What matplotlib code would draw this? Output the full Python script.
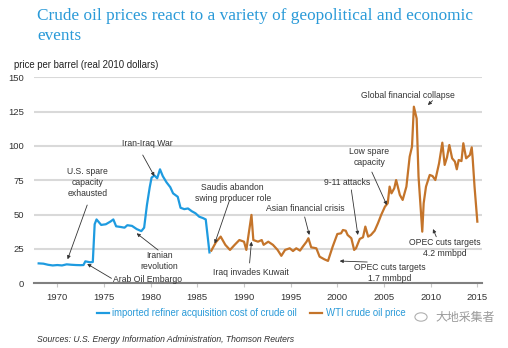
import matplotlib.pyplot as plt
from matplotlib.patches import Circle

# imported refiner acquisition cost of crude oil (real 2010 $/bbl)
rac_years = [1968.0, 1968.5, 1969.0, 1969.5, 1970.0, 1970.5, 1971.0, 1971.5, 1972.0,
             1972.5, 1972.8, 1973.0, 1973.5, 1973.8, 1974.0, 1974.2, 1974.7, 1975.2,
             1975.7, 1976.0, 1976.3, 1976.8, 1977.2, 1977.5, 1978.0, 1978.5, 1979.0,
             1979.3, 1979.6, 1979.9, 1980.1, 1980.4, 1980.7, 1981.0, 1981.3, 1981.7,
             1982.1, 1982.4, 1982.9, 1983.2, 1983.6, 1984.0, 1984.4, 1984.8, 1985.2,
             1985.6, 1985.9, 1986.3]
rac_price = [14.5, 14.3, 13.5, 13.0, 13.3, 13.0, 13.8, 13.5, 13.3,
             13.2, 13.3, 16.0, 15.3, 15.5, 43.0, 46.5, 42.5, 43.0,
             45.0, 46.5, 41.5, 41.0, 40.5, 42.3, 41.8, 39.5, 38.0,
             40.5, 57.0, 70.0, 77.0, 78.5, 76.5, 83.0, 78.0, 73.5,
             70.0, 65.5, 63.0, 55.0, 54.0, 54.5, 52.5, 51.0, 48.5,
             47.5, 46.5, 22.5]

# WTI crude oil price (real 2010 $/bbl)
wti_years = [1986.5, 1987.0, 1987.5, 1988.0, 1988.5, 1989.0, 1989.5, 1990.0, 1990.25,
             1990.8, 1991.0, 1991.5, 1991.9, 1992.1, 1992.6, 1993.1, 1993.6, 1994.0,
             1994.4, 1994.9, 1995.25, 1995.6, 1996.0, 1996.3, 1996.7, 1996.9, 1997.2,
             1997.75, 1998.1, 1998.6, 1999.0, 1999.5, 2000.0, 2000.4, 2000.6, 2000.9,
             2001.1, 2001.5, 2001.8, 2002.0, 2002.4, 2002.75, 2003.0, 2003.3, 2003.6,
             2004.0, 2004.35, 2004.7, 2005.1, 2005.4, 2005.6, 2005.8, 2006.1, 2006.3,
             2006.7, 2007.0, 2007.4, 2007.75, 2008.0, 2008.2, 2008.5, 2008.7, 2009.1,
             2009.25, 2009.5, 2009.9, 2010.2, 2010.5, 2010.9, 2011.25, 2011.5, 2011.75,
             2012.0, 2012.3, 2012.6, 2012.8, 2013.0, 2013.3, 2013.5, 2013.8, 2014.2,
             2014.4, 2014.5, 2014.7, 2015.0]
wti_price = [23.8, 30.0, 34.0, 28.0, 24.3, 28.0, 31.5, 30.3, 24.3,
             49.8, 31.5, 30.3, 31.5, 28.0, 30.3, 28.0, 24.3, 20.0,
             24.3, 25.5, 23.5, 25.5, 23.8, 26.7, 30.3, 32.8, 26.2,
             25.5, 19.4, 17.5, 16.3, 26.7, 35.9, 36.4, 38.8, 38.3,
             35.2, 32.8, 24.3, 25.5, 32.3, 33.5, 41.3, 34.0, 35.2,
             38.3, 43.7, 49.8, 55.8, 58.3, 70.4, 65.5, 69.2, 75.2,
             64.3, 60.7, 70.4, 92.2, 99.5, 128.6, 120.0, 77.7, 37.6,
             58.3, 70.4, 78.9, 78.1, 75.2, 87.4, 102.4, 86.2, 91.7,
             100.7, 91.0, 88.6, 83.0, 89.8, 89.0, 102.0, 91.0, 93.4,
             99.0, 91.0, 70.4, 44.9]

year_ticks = [1970, 1975, 1980, 1985, 1990, 1995, 2000, 2005, 2010, 2015]
price_ticks = [0, 25, 50, 75, 100, 125, 150]

# (label, text centre, arrow tail, arrow head)
events = [
    ("U.S. spare\ncapacity\nexhausted", (1973.25, 73.3), (1973.2, 57.0), (1971.1, 17.5)),
    ("Iran-Iraq War", (1979.7, 102.0), (1979.15, 93.4), (1980.4, 78.0)),
    ("Iranian\nrevolution", (1980.9, 16.0), (1980.8, 24.2), (1978.5, 36.4)),
    ("Arab Oil Embargo", (1979.7, 3.1), (1975.8, 3.6), (1973.2, 14.1)),
    ("Saudis abandon\nswing producer role", (1988.8, 65.8), (1988.46, 60.7), (1986.86, 29.0)),
    ("Iraq invades Kuwait", (1990.7, 8.2), (1990.6, 14.8), (1990.8, 30.3)),
    ("Asian financial crisis", (1996.6, 54.8), (1996.5, 48.3), (1997.0, 35.2)),
    ("9-11 attacks", (2001.0, 73.7), (2001.5, 68.0), (2002.2, 35.2)),
    ("Low spare\ncapacity", (2003.4, 92.0), (2003.7, 81.0), (2005.3, 57.0)),
    ("Global financial collapse", (2007.6, 137.0), (2010.2, 133.0), (2009.7, 129.8)),
    ("OPEC cuts targets\n1.7 mmbpd", (2005.6, 7.5), (2003.2, 15.5), (2000.25, 16.2)),
    ("OPEC cuts targets\n4.2 mmbpd", (2011.5, 25.7), (2010.6, 33.9), (2010.25, 39.5)),
]

blue = '#1e9be0'
orange = '#c4742a'
title_blue = '#2a9ad8'
txt = '#333333'

plt.rcParams['font.family'] = ['Liberation Sans', 'DejaVu Sans']

fig = plt.figure(figsize=(5.08, 3.48), dpi=100)
ax = fig.add_axes([34 / 508, 1 - 283.3 / 348, 448 / 508, 206 / 348])

ax.plot(rac_years, rac_price, color=blue, lw=1.6, label='imported refiner acquisition cost of crude oil')
ax.plot(wti_years, wti_price, color=orange, lw=1.6, label='WTI crude oil price')

ax.set_xlim(1967.5, 2015.5)
ax.set_ylim(0, 150)
ax.set_xticks(year_ticks)
ax.set_yticks(price_ticks)
ax.tick_params(axis='x', length=3, color='#c8c8c8', labelsize=6.8, labelcolor=txt, pad=4)
ax.tick_params(axis='y', length=0, labelsize=6.8, labelcolor=txt, pad=7)
ax.grid(axis='y', color='#d9d9d9', lw=1.5)
ax.set_axisbelow(True)
for side in ['top', 'right', 'left']:
    ax.spines[side].set_visible(False)
ax.spines['bottom'].set_color('#808080')
ax.spines['bottom'].set_linewidth(1.5)

for label, pos, tail, head in events:
    ax.text(pos[0], pos[1], label, ha='center', va='center', fontsize=6.2,
            color=txt, linespacing=1.3)
    ax.annotate('', xy=head, xytext=tail,
                arrowprops=dict(arrowstyle='-|>', color='#333333', lw=0.6,
                                mutation_scale=5, shrinkA=0, shrinkB=0))

fig.text(37 / 508, 1 - 26 / 348,
         'Crude oil prices react to a variety of geopolitical and economic\nevents',
         family='Liberation Serif', fontsize=12.4, color=title_blue, va='center',
         linespacing=1.4)
fig.text(14 / 508, 1 - 65 / 348, 'price per barrel (real 2010 dollars)',
         fontsize=6.9, color='#222222', va='center')

leg = ax.legend(loc='center', bbox_to_anchor=(251 / 508, 1 - 313 / 348),
                bbox_transform=fig.transFigure, ncol=2, frameon=False,
                fontsize=6.9, handlelength=1.25, columnspacing=1.35, handletextpad=0.4)
for t in leg.get_texts():
    t.set_color(title_blue)

fig.text(37 / 508, 1 - 340 / 348,
         'Sources: U.S. Energy Information Administration, Thomson Reuters',
         fontsize=6.2, style='italic', color='#333333', va='center')

# watermark
fig.patches.append(Circle((421 / 508, 1 - 317 / 348), 0.012, transform=fig.transFigure,
                          fill=False, ec='#b0b0b0', lw=0.8))
fig.text(435 / 508, 1 - 317 / 348, '大地采集者', family=['Noto Sans CJK SC', 'DejaVu Sans'],
         fontsize=8.6, color='#9a9a9a', va='center')

fig.savefig('out.png', dpi=100)
